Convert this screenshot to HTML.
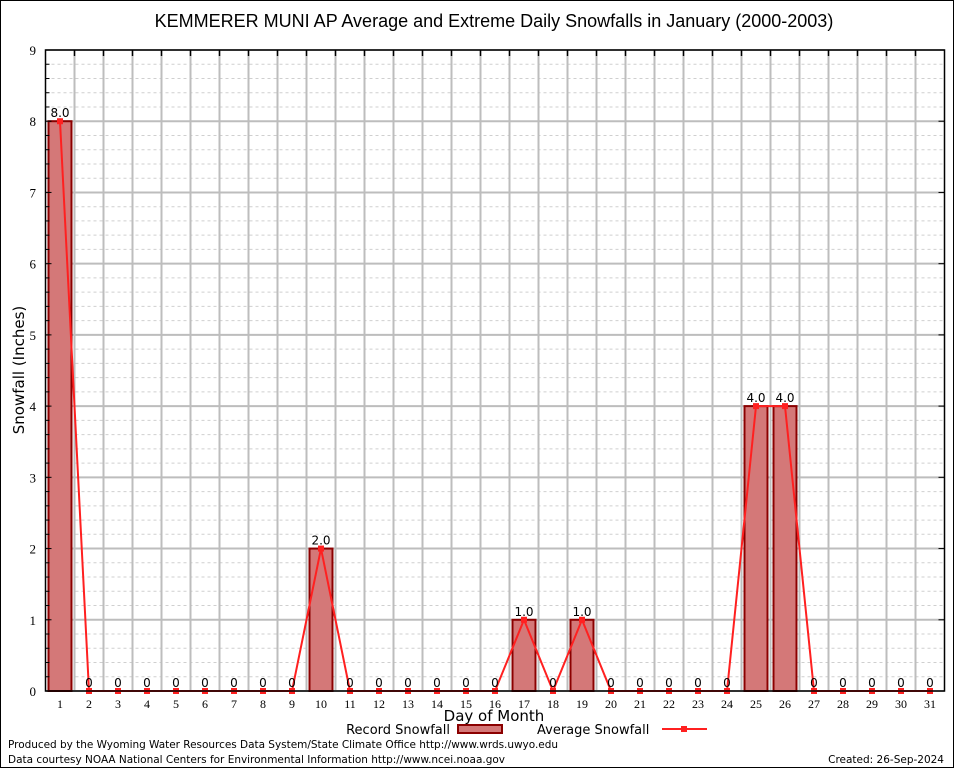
<!DOCTYPE html>
<html><head><meta charset="utf-8">
<style>
html,body{margin:0;padding:0;background:#fff;}
svg{display:block;font-family:"DejaVu Sans","Liberation Sans",sans-serif;}
</style></head>
<body>
<svg id="chart" width="954" height="768" viewBox="0 0 954 768" xmlns="http://www.w3.org/2000/svg">
<rect x="0.5" y="0.5" width="953" height="767" fill="#fff" stroke="#000"/>
<text x="494" y="27" font-size="18" text-anchor="middle" font-family="Liberation Sans, sans-serif">KEMMERER MUNI AP Average and Extreme Daily Snowfalls in January (2000-2003)</text>
<g id="grid"></g>
<g id="bars"></g>
<g id="line"></g>
<g id="labels"></g>
<g id="axes"></g>
<text x="24" y="370" font-size="15" text-anchor="middle" transform="rotate(-90 24 370)">Snowfall (Inches)</text>
<text x="494" y="721" font-size="15" text-anchor="middle">Day of Month</text>
<g>
<text x="450" y="734" font-size="13" text-anchor="end">Record Snowfall</text>
<rect x="458" y="725" width="44" height="8" fill="#d47878" stroke="#8b0000" stroke-width="2"/>
<text x="537" y="734" font-size="13">Average Snowfall</text>
<line x1="662" y1="729" x2="707" y2="729" stroke="#ff2020" stroke-width="2"/>
<rect x="681" y="726" width="6" height="6" fill="#ff2020"/>
</g>
<text x="8" y="748" font-size="10.5" textLength="550">Produced by the Wyoming Water Resources Data System/State Climate Office http://www.wrds.uwyo.edu</text>
<text x="8" y="763" font-size="10.5" textLength="497">Data courtesy NOAA National Centers for Environmental Information http://www.ncei.noaa.gov</text>
<text x="944" y="763" font-size="10.5" text-anchor="end">Created:  26-Sep-2024</text>
</svg>
<script>
const days = [1,2,3,4,5,6,7,8,9,10,11,12,13,14,15,16,17,18,19,20,21,22,23,24,25,26,27,28,29,30,31];
const recordSnow = [8,0,0,0,0,0,0,0,0,2,0,0,0,0,0,0,1,0,1,0,0,0,0,0,4,4,0,0,0,0,0];
const avgSnow = [8,0,0,0,0,0,0,0,0,2,0,0,0,0,0,0,1,0,1,0,0,0,0,0,4,4,0,0,0,0,0];
const yTicks = [0,1,2,3,4,5,6,7,8,9];

const L=45.5,R=944.5,T=50,B=691,YMAX=9;
const NS="http://www.w3.org/2000/svg";
const step=(R-L)/days.length;
function xs(d){return L+(d-0.5)*step;}
function ys(v){return B-v/YMAX*(B-T);}
function mk(tag,attrs,parent,txt){const e=document.createElementNS(NS,tag);for(const k in attrs)e.setAttribute(k,attrs[k]);if(txt!==undefined)e.textContent=txt;parent.appendChild(e);return e;}
const grid=document.getElementById('grid'),bars=document.getElementById('bars'),line=document.getElementById('line'),labels=document.getElementById('labels'),axes=document.getElementById('axes');

for(let v=0;v<YMAX;v+=1){for(let m=1;m<5;m++){const y=ys(v+m*0.2);
const g=mk('line',{x1:L,x2:R,y1:y,y2:y,stroke:'#cfcfcf','stroke-width':1,'stroke-dasharray':'3,3'},grid);

}}
yTicks.forEach(v=>{const y=ys(v);
const g=mk('line',{x1:L,x2:R,y1:y,y2:y,stroke:'#bdbdbd','stroke-width':2},grid);


const t=mk('text',{x:36,y:y+5,'font-size':13,'text-anchor':'end','font-family':'Liberation Serif, serif'},axes,String(v));


for(const xx of [[L,L+6],[R-6,R]]){const tk=mk('line',{x1:xx[0],x2:xx[1],y1:y,y2:y,stroke:'#000'},axes);

}
if(v<YMAX){for(let m=1;m<5;m++){const ym=ys(v+m*0.2);
const mt=mk('line',{x1:L,x2:L+4,y1:ym,y2:ym,stroke:'#000'},axes);

}}
});
days.forEach((d,i)=>{const xb=L+(i+1)*step;
if(i<days.length-1){const g=mk('line',{x1:xb,x2:xb,y1:T,y2:B,stroke:'#bdbdbd','stroke-width':2},grid);


const tk=mk('line',{x1:xb,x2:xb,y1:T,y2:T+6,stroke:'#000','stroke-width':1.5},axes);

}
const t=mk('text',{x:xs(d),y:708,'font-size':12,'text-anchor':'middle','font-family':'Liberation Serif, serif'},axes,String(d));


if(recordSnow[i]>0){const r=mk('rect',{x:xs(d)-11.5,y:ys(recordSnow[i]),width:23,height:B-ys(recordSnow[i]),fill:'#d47878',stroke:'#8b0000','stroke-width':2},bars);

}
const lbl=recordSnow[i]>0?recordSnow[i].toFixed(1):'0';
const tl=mk('text',{x:xs(d),y:ys(recordSnow[i])-4,'font-size':12,'text-anchor':'middle'},labels,lbl);


});
const pts=days.map((d,i)=>xs(d)+','+ys(avgSnow[i])).join(' ');
const pl=mk('polyline',{points:pts,fill:'none',stroke:'#ff2020','stroke-width':2},line);


days.forEach((d,i)=>{const c=mk('rect',{x:xs(d)-3,y:ys(avgSnow[i])-3,width:6,height:6,fill:'#ff2020'},line);

});
const fr=mk('rect',{x:L,y:T,width:R-L,height:B-T,fill:'none',stroke:'#000','stroke-width':1.5},axes);


</script>
</body></html>
